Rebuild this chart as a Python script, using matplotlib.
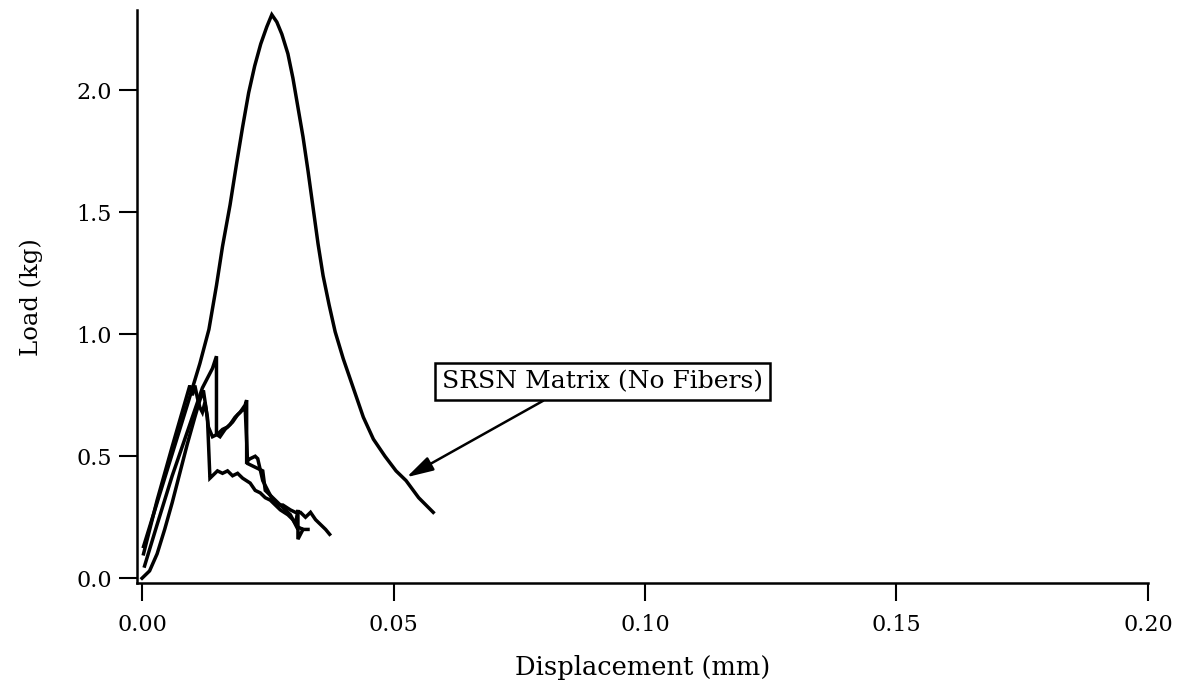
import matplotlib
matplotlib.use("Agg")
import matplotlib.pyplot as plt

plt.rcParams["font.family"] = ["DejaVu Serif"]

# Load-displacement records (displacement in mm, load in kg)
matrix_disp = [0.0003, 0.0030, 0.0060, 0.0090, 0.0115, 0.0133, 0.0148, 0.0160,
               0.0175, 0.0188, 0.0200, 0.0212, 0.0224, 0.0236, 0.0248, 0.0258,
               0.0268, 0.0278, 0.0290, 0.0300, 0.0310, 0.0320, 0.0330, 0.0340,
               0.0350, 0.0360, 0.0372, 0.0384, 0.0400, 0.0420, 0.0440, 0.0460,
               0.0483, 0.0505, 0.0525, 0.0550, 0.0579]
matrix_load = [0.13, 0.31, 0.51, 0.71, 0.88, 1.02, 1.20, 1.36,
               1.53, 1.70, 1.85, 1.99, 2.10, 2.19, 2.26, 2.31,
               2.28, 2.23, 2.15, 2.05, 1.93, 1.81, 1.67, 1.52,
               1.37, 1.24, 1.12, 1.01, 0.90, 0.78, 0.66, 0.57,
               0.50, 0.44, 0.40, 0.33, 0.27]

fiber1_disp = [0.0003, 0.0030, 0.0060, 0.0088, 0.0095, 0.0100, 0.0105, 0.0110,
               0.0115, 0.0120, 0.0125, 0.0130, 0.0135, 0.0140, 0.0150, 0.0160,
               0.0170, 0.0180, 0.0190, 0.0200, 0.0215, 0.0225, 0.0235, 0.0245,
               0.0255, 0.0265, 0.0275, 0.0290, 0.0300, 0.0310, 0.0320, 0.0330]
fiber1_load = [0.10, 0.32, 0.54, 0.74, 0.79, 0.75, 0.79, 0.74,
               0.70, 0.68, 0.72, 0.66, 0.41, 0.42, 0.44, 0.43,
               0.44, 0.42, 0.43, 0.41, 0.39, 0.36, 0.35, 0.33,
               0.32, 0.30, 0.28, 0.26, 0.24, 0.21, 0.20, 0.20]

fiber2_disp = [0.0005, 0.0030, 0.0060, 0.0090, 0.0120, 0.0140, 0.0148, 0.0148,
               0.0155, 0.0165, 0.0175, 0.0185, 0.0195, 0.0205, 0.0208, 0.0208,
               0.0215, 0.0225, 0.0230, 0.0240, 0.0250, 0.0260, 0.0270, 0.0280,
               0.0295, 0.0305, 0.0315, 0.0325, 0.0335, 0.0345, 0.0355, 0.0365,
               0.0373]
fiber2_load = [0.05, 0.22, 0.42, 0.60, 0.78, 0.86, 0.91, 0.59,
               0.58, 0.61, 0.63, 0.66, 0.68, 0.71, 0.73, 0.48,
               0.49, 0.50, 0.49, 0.40, 0.36, 0.32, 0.30, 0.30,
               0.28, 0.27, 0.27, 0.25, 0.27, 0.24, 0.22, 0.20,
               0.18]

fiber3_disp = [0.0000, 0.0015, 0.0030, 0.0045, 0.0060, 0.0075, 0.0090, 0.0105,
               0.0115, 0.0122, 0.0127, 0.0132, 0.0140, 0.0150, 0.0160, 0.0170,
               0.0180, 0.0190, 0.0200, 0.0205, 0.0210, 0.0220, 0.0230, 0.0240,
               0.0245, 0.0255, 0.0265, 0.0275, 0.0285, 0.0295, 0.0305, 0.0310,
               0.0310, 0.0320]
fiber3_load = [0.00, 0.03, 0.10, 0.20, 0.31, 0.43, 0.55, 0.66,
               0.73, 0.77, 0.70, 0.62, 0.58, 0.59, 0.61, 0.62,
               0.64, 0.67, 0.69, 0.70, 0.47, 0.46, 0.45, 0.44,
               0.36, 0.34, 0.32, 0.30, 0.28, 0.26, 0.22, 0.28,
               0.16, 0.20]

x_ticks = [0.00, 0.05, 0.10, 0.15, 0.20]
x_tick_labels = ["0.00", "0.05", "0.10", "0.15", "0.20"]
y_ticks = [0.0, 0.5, 1.0, 1.5, 2.0]
y_tick_labels = ["0.0", "0.5", "1.0", "1.5", "2.0"]

annotation_text = "SRSN Matrix (No Fibers)"
annotation_point = (0.0526, 0.414)
annotation_text_pos = (0.0915, 0.807)

fig = plt.figure(figsize=(11.78, 6.86), dpi=100)
ax = fig.add_axes([0.1163, 0.150, 0.8582, 0.835])

line_kw = dict(color="black", linewidth=2.5, solid_joinstyle="miter")
ax.plot(matrix_disp, matrix_load, **line_kw)
ax.plot(fiber1_disp, fiber1_load, **line_kw)
ax.plot(fiber2_disp, fiber2_load, **line_kw)
ax.plot(fiber3_disp, fiber3_load, **line_kw)

ax.set_xlim(-0.001, 0.2)
ax.set_ylim(-0.02, 2.328)
ax.set_xticks(x_ticks)
ax.set_xticklabels(x_tick_labels)
ax.set_yticks(y_ticks)
ax.set_yticklabels(y_tick_labels)

for side in ("top", "right"):
    ax.spines[side].set_visible(False)
for side in ("left", "bottom"):
    ax.spines[side].set_linewidth(1.8)

ax.tick_params(axis="both", direction="out", length=13, width=1.5,
               labelsize=16)
ax.tick_params(axis="x", pad=9)
ax.tick_params(axis="y", pad=5)

ax.set_xlabel("Displacement (mm)", fontsize=18.5, labelpad=14)
ax.set_ylabel("Load (kg)", fontsize=17.5, labelpad=24)

ax.annotate(annotation_text, xy=annotation_point, xytext=annotation_text_pos,
            fontsize=18, ha="center", va="center",
            bbox=dict(boxstyle="square,pad=0.28", fc="white", ec="black", lw=1.8),
            arrowprops=dict(arrowstyle="-|>,head_length=0.9,head_width=0.25",
                            color="black", lw=1.8, shrinkA=0, shrinkB=0,
                            relpos=(0.36, 0.0)))

fig.savefig("out.png", dpi=100)
